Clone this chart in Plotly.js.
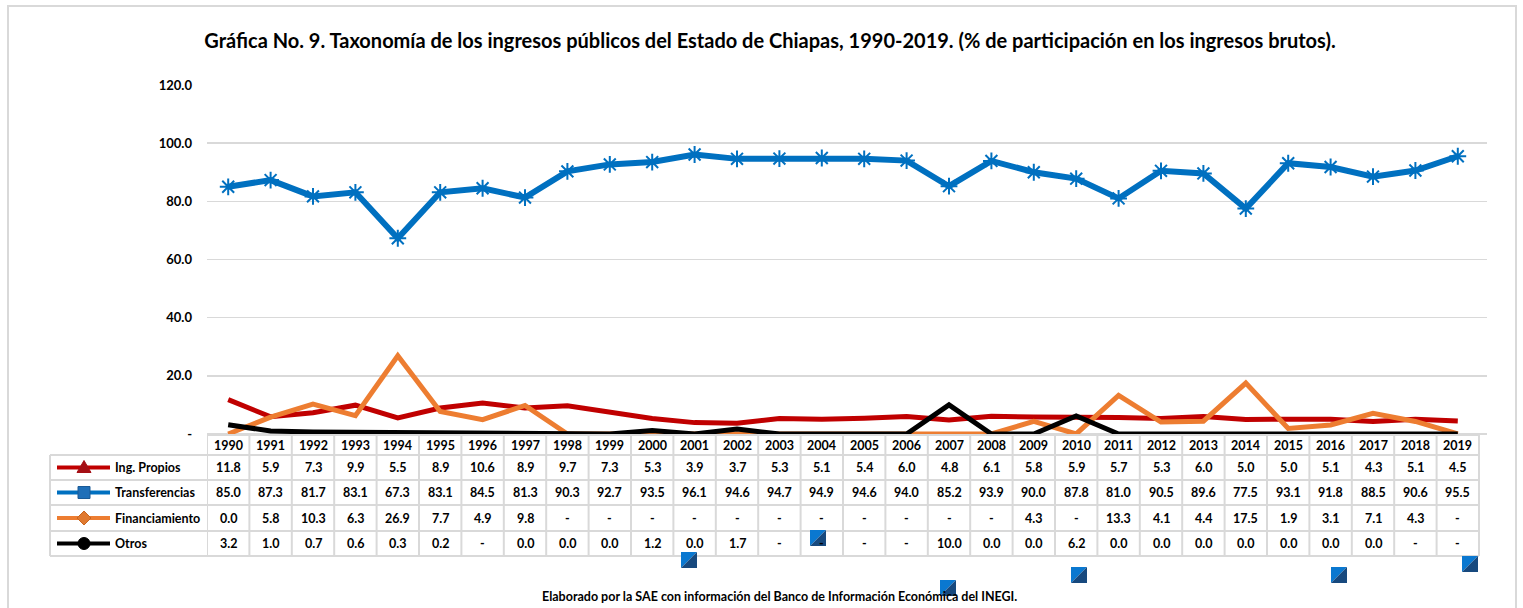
<!DOCTYPE html>
<html>
<head>
<meta charset="utf-8">
<script src="https://cdn.plot.ly/plotly-3.0.1.min.js"></script>
<style>html,body{margin:0;padding:0;background:#fff;}#chart{width:1523px;height:608px;}</style>
</head>
<body>
<div id="chart"></div>
<script>
// ---- DATA ----
const years = [1990,1991,1992,1993,1994,1995,1996,1997,1998,1999,2000,2001,2002,2003,2004,2005,2006,2007,2008,2009,2010,2011,2012,2013,2014,2015,2016,2017,2018,2019];
const ingPropios = [11.8,5.9,7.3,9.9,5.5,8.9,10.6,8.9,9.7,7.3,5.3,3.9,3.7,5.3,5.1,5.4,6.0,4.8,6.1,5.8,5.9,5.7,5.3,6.0,5.0,5.0,5.1,4.3,5.1,4.5];
const transferencias = [85.0,87.3,81.7,83.1,67.3,83.1,84.5,81.3,90.3,92.7,93.5,96.1,94.6,94.7,94.9,94.6,94.0,85.2,93.9,90.0,87.8,81.0,90.5,89.6,77.5,93.1,91.8,88.5,90.6,95.5];
const financiamiento = [0.0,5.8,10.3,6.3,26.9,7.7,4.9,9.8,null,null,null,null,null,null,null,null,null,null,null,4.3,null,13.3,4.1,4.4,17.5,1.9,3.1,7.1,4.3,null];
const otros = [3.2,1.0,0.7,0.6,0.3,0.2,null,0.0,0.0,0.0,1.2,0.0,1.7,null,null,null,null,10.0,0.0,0.0,6.2,0.0,0.0,0.0,0.0,0.0,0.0,0.0,null,null];
const seriesNames = ["Ing. Propios","Transferencias","Financiamiento","Otros"];
const yTickVals = [0,20,40,60,80,100,120];
const yTickText = ["-","20.0","40.0","60.0","80.0","100.0","120.0"];
const titleText = "Gráfica No. 9. Taxonomía de los ingresos públicos del Estado de Chiapas, 1990-2019. (% de participación en los ingresos brutos).";
const footerText = "Elaborado por la SAE con información del Banco de Información Económica del INEGI.";

// ---- STYLE / GEOMETRY ----
const W = 1523, H = 608;
const L = 207, R = 1487, T = 85, B = 436;
const colors = ["#C00000","#0070C0","#ED7D31","#000000"];
const FONT = "Lato, 'Open Sans', sans-serif";
const CELL = 12.5;
const px = p => (p - L) / (R - L);
const py = p => (B - p) / (B - T);
const z = a => a.map(v => v === null ? 0 : v);
const fmt = v => v === null ? "-" : v.toFixed(1);
const allSeries = [ingPropios, transferencias, financiamiento, otros];

const traces = [
  {x: years, y: z(ingPropios), mode: "lines", line: {color: colors[0], width: 5}, name: seriesNames[0], hoverinfo: "skip"},
  {x: years, y: z(financiamiento), mode: "lines", line: {color: colors[2], width: 5}, name: seriesNames[2], hoverinfo: "skip"},
  {x: years, y: z(otros), mode: "lines", line: {color: colors[3], width: 5}, name: seriesNames[3], hoverinfo: "skip"},
  {x: years, y: z(transferencias), mode: "lines+markers", line: {color: colors[1], width: 6},
   marker: {symbol: "asterisk-open", size: 14, line: {color: colors[1], width: 2}}, name: seriesNames[1], hoverinfo: "skip"}
];

const shapes = [];
const annotations = [];
const grid = "#d9d9d9";

// outer frame
shapes.push({type: "rect", xref: "paper", yref: "paper", x0: px(8), x1: px(1516), y0: py(6), y1: py(640),
  line: {color: "#d9d9d9", width: 2}, layer: "below"});

// table rows (pixel y)
const headerTop = 435;
const rowB = [455, 480, 505, 531, 556];
const firstX = years[0] - 0.5, lastX = years[years.length - 1] + 0.5;
shapes.push({type: "line", xref: "x", yref: "paper", x0: firstX, x1: lastX, y0: py(headerTop), y1: py(headerTop), line: {color: grid, width: 2}});
rowB.forEach(yb => {
  shapes.push({type: "line", xref: "paper", yref: "paper", x0: px(50), x1: px(L), y0: py(yb), y1: py(yb), line: {color: grid, width: 2}});
  shapes.push({type: "line", xref: "x", yref: "paper", x0: firstX, x1: lastX, y0: py(yb), y1: py(yb), line: {color: grid, width: 2}});
});
shapes.push({type: "line", xref: "paper", yref: "paper", x0: px(50), x1: px(50), y0: py(455), y1: py(556), line: {color: grid, width: 2}});
years.forEach(yr => {
  shapes.push({type: "line", xref: "x", yref: "paper", x0: yr - 0.5, x1: yr - 0.5, y0: py(headerTop), y1: py(556), line: {color: grid, width: 2}});
});
shapes.push({type: "line", xref: "x", yref: "paper", x0: lastX, x1: lastX, y0: py(headerTop), y1: py(556), line: {color: grid, width: 2}});

// header years
years.forEach(yr => {
  annotations.push({x: yr, xref: "x", y: py(445.5), yref: "paper", text: String(yr), showarrow: false,
    font: {family: FONT, size: CELL, color: "#000", weight: "bold"}, xanchor: "center", yanchor: "middle"});
});
const rowCenters = [467.5, 492.5, 518, 543.5];
allSeries.forEach((s, r) => {
  s.forEach((v, i) => {
    annotations.push({x: years[i], xref: "x", y: py(rowCenters[r]), yref: "paper", text: fmt(v), showarrow: false,
      font: {family: FONT, size: CELL, color: "#000", weight: "bold"}, xanchor: "center", yanchor: "middle"});
  });
  annotations.push({x: px(113), xref: "paper", y: py(rowCenters[r]), yref: "paper", text: seriesNames[r], showarrow: false,
    font: {family: FONT, size: CELL, color: "#000", weight: "bold"}, xanchor: "left", yanchor: "middle"});
  shapes.push({type: "line", xref: "paper", yref: "paper", x0: px(57), x1: px(110), y0: py(rowCenters[r]), y1: py(rowCenters[r]),
    line: {color: colors[r], width: 4}});
});
const P = (x, y) => px(x) + "," + py(y);
(function(){
  const cx = 84;
  let cy = rowCenters[0];
  shapes.push({type: "path", xref: "paper", yref: "paper", path: "M" + P(cx, cy - 7) + " L" + P(cx + 7, cy + 5) + " L" + P(cx - 7, cy + 5) + " Z",
    fillcolor: "#A50F15", line: {color: "#A50F15", width: 1}});
  cy = rowCenters[1];
  shapes.push({type: "path", xref: "paper", yref: "paper", path: "M" + P(cx - 6, cy - 6) + " L" + P(cx + 6, cy - 6) + " L" + P(cx + 6, cy + 6) + " L" + P(cx - 6, cy + 6) + " Z",
    fillcolor: "#1f6fb8", line: {color: "#1a5a96", width: 1}});
  cy = rowCenters[2];
  shapes.push({type: "path", xref: "paper", yref: "paper", path: "M" + P(cx, cy - 7) + " L" + P(cx + 7, cy) + " L" + P(cx, cy + 7) + " L" + P(cx - 7, cy) + " Z",
    fillcolor: "#E07A30", line: {color: "#C8651F", width: 1}});
  cy = rowCenters[3];
  shapes.push({type: "circle", xref: "paper", yref: "paper", x0: px(cx - 6), x1: px(cx + 6), y0: py(cy - 6), y1: py(cy + 6),
    fillcolor: "#000", line: {color: "#000", width: 1}});
})();

// stray decorative squares seen in the source image
const stray = [[689,560],[818,538],[948,588],[1079,575],[1339,575],[1470,564]];
stray.forEach(([cx, cy]) => {
  const s = 8;
  shapes.push({type: "path", xref: "paper", yref: "paper",
    path: "M" + P(cx - s, cy - s) + " L" + P(cx + s, cy - s) + " L" + P(cx - s, cy + s) + " Z",
    fillcolor: "#0a78d0", line: {width: 0}});
  shapes.push({type: "path", xref: "paper", yref: "paper",
    path: "M" + P(cx + s, cy - s) + " L" + P(cx + s, cy + s) + " L" + P(cx - s, cy + s) + " Z",
    fillcolor: "#17497e", line: {width: 0}});
});

annotations.push({x: px(779), xref: "paper", y: py(596), yref: "paper", text: footerText, showarrow: false,
  font: {family: FONT, size: 12.5, color: "#000", weight: "bold"}, xanchor: "center", yanchor: "middle"});

const layout = {
  width: W, height: H,
  margin: {l: L, r: W - R, t: T, b: H - B, pad: 0},
  paper_bgcolor: "#fff", plot_bgcolor: "#fff",
  showlegend: false,
  title: {text: titleText, font: {family: FONT, size: 20, color: "#000", weight: "bold"},
    x: 770 / W, xref: "container", xanchor: "center", y: 1 - 41 / H, yref: "container", yanchor: "middle"},
  xaxis: {range: [years[0] - 0.5, years[0] - 0.5 + (R - L) / 42.4], showticklabels: false, showgrid: false, zeroline: false, showline: false, ticks: "", fixedrange: true},
  yaxis: {range: [-0.7, 120], tickvals: yTickVals, ticktext: yTickText, showgrid: true, gridcolor: grid, gridwidth: 1.5,
    zeroline: false, showline: false, ticks: "", ticklabelstandoff: 14,
    tickfont: {family: FONT, size: 13, color: "#000", weight: "bold"}, fixedrange: true},
  shapes: shapes,
  annotations: annotations
};

Plotly.newPlot("chart", traces, layout, {displayModeBar: false, staticPlot: true});
</script>
</body>
</html>
